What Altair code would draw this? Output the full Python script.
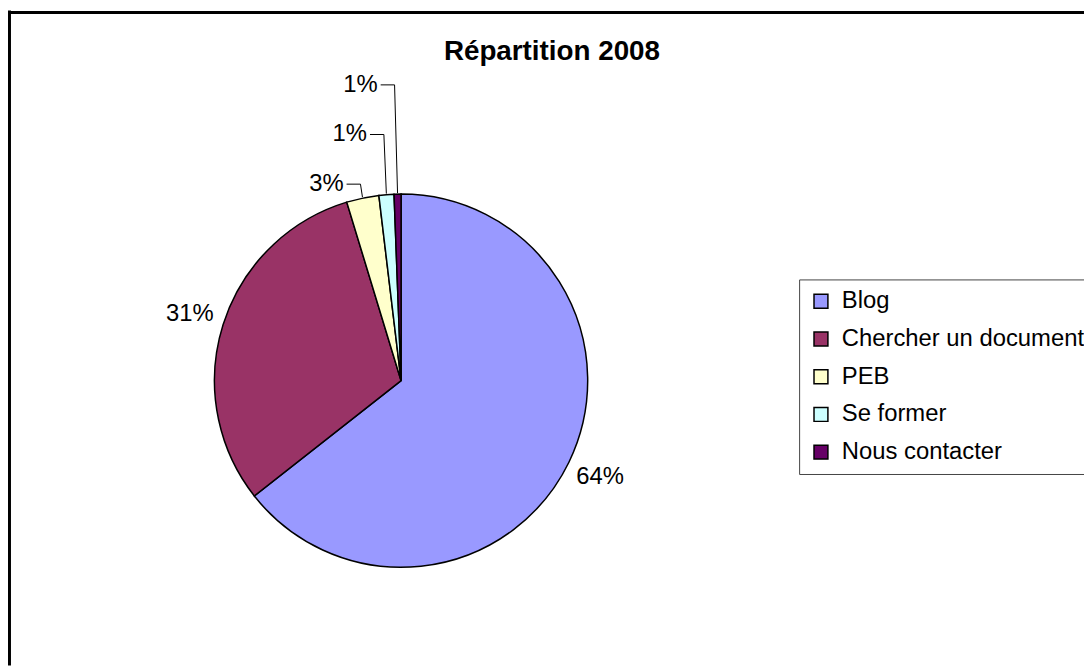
import math
import altair as alt
import pandas as pd

# ---- data ----
categories = ["Blog", "Chercher un document", "PEB", "Se former", "Nous contacter"]
values = [64.4, 30.9, 2.8, 1.3, 0.6]
colors = ["#9999FF", "#993366", "#FFFFCC", "#CCFFFF", "#660066"]
title_text = "Répartition 2008"

# ---- layout (styles / positions, view coordinates) ----
W, H = 1084, 660
CX, CY, R = 396, 373, 188
FONT = "Liberation Sans"
BIG_LABEL_R = 223
SMALL_FIRST_DY = 198
SMALL_STEP = 50

total = sum(values)
rows = []
start = 0.0
for i, (c, v) in enumerate(zip(categories, values)):
    ang = v / total * 360.0
    mid = math.radians(start + ang / 2)
    rows.append(dict(category=c, value=v, idx=i, pct=v / total * 100,
                     label=f"{round(v / total * 100 + 1e-9):.0f}%", mid=mid))
    start += ang
df = pd.DataFrame(rows)

big = df[df["pct"] >= 5].copy()
big["lx"] = CX + BIG_LABEL_R * big["mid"].apply(math.sin)
big["ly"] = CY - BIG_LABEL_R * big["mid"].apply(math.cos)

small = df[df["pct"] < 5].copy().sort_values("idx").reset_index(drop=True)
seg_rows, small_lab = [], []
for k, r in small.iterrows():
    ex = CX + (R + 1) * math.sin(r["mid"])
    ey = CY - (R + 1) * math.cos(r["mid"])
    bx = ex - 2 - k * 0.5
    by = CY - SMALL_FIRST_DY - SMALL_STEP * k
    hx = bx - 14
    seg_rows.append(dict(x=ex, y=ey, x2=bx, y2=by))
    seg_rows.append(dict(x=bx, y=by, x2=hx, y2=by))
    small_lab.append(dict(label=r["label"], lx=hx - 3, ly=by))
segs = pd.DataFrame(seg_rows)
small_df = pd.DataFrame(small_lab)

xs = alt.Scale(domain=[0, W], range=[0, W])
ys = alt.Scale(domain=[0, H], range=[0, H])

pie = alt.Chart(df).mark_arc(outerRadius=R, stroke="black", strokeWidth=1.5).encode(
    theta=alt.Theta("value:Q", stack=True),
    color=alt.Color(
        "category:N",
        scale=alt.Scale(domain=categories, range=colors),
        sort=categories,
        legend=alt.Legend(
            title=None, orient="none", legendX=797, legendY=271,
            symbolType="square", symbolSize=196, symbolStrokeColor="black",
            symbolStrokeWidth=1.5, symbolOpacity=1,
            labelFont=FONT, labelFontSize=24, labelColor="black",
            labelOffset=9, rowPadding=14, padding=10,
            strokeColor="#444", fillColor="white", labelLimit=400,
        ),
    ),
    order=alt.Order("idx:Q"),
    x=alt.value(CX), y=alt.value(CY),
)

big_text = alt.Chart(big).mark_text(font=FONT, fontSize=24, color="black",
                                    align="center", baseline="middle").encode(
    x=alt.X("lx:Q", scale=xs, axis=None),
    y=alt.Y("ly:Q", scale=ys, axis=None),
    text="label:N",
)

leaders = alt.Chart(segs).mark_rule(color="black", strokeWidth=1).encode(
    x=alt.X("x:Q", scale=xs, axis=None), y=alt.Y("y:Q", scale=ys, axis=None),
    x2="x2:Q", y2="y2:Q",
)

small_text = alt.Chart(small_df).mark_text(font=FONT, fontSize=24, color="black",
                                           align="right", baseline="middle").encode(
    x=alt.X("lx:Q", scale=xs, axis=None),
    y=alt.Y("ly:Q", scale=ys, axis=None),
    text="label:N",
)

title = alt.Chart(pd.DataFrame({"t": [title_text]})).mark_text(
    font=FONT, fontSize=28, fontWeight="bold", color="black",
    align="center", baseline="alphabetic").encode(
    x=alt.value(548), y=alt.value(50), text="t:N")

frame_left = alt.Chart(pd.DataFrame({"a": [0]})).mark_rule(color="black", strokeWidth=3).encode(
    x=alt.value(1.5), y=alt.value(0), y2=alt.value(H))
frame_top = alt.Chart(pd.DataFrame({"a": [0]})).mark_rule(color="black", strokeWidth=3).encode(
    y=alt.value(2), x=alt.value(0), x2=alt.value(W))

chart = alt.layer(frame_left, frame_top, pie, leaders, big_text, small_text, title).properties(
    width=W, height=H, padding=0, autosize=alt.AutoSizeParams(type="none"),
    background="white",
).configure_view(stroke=None)

chart.save("out.html", embed_options={"renderer": "svg", "actions": False})
